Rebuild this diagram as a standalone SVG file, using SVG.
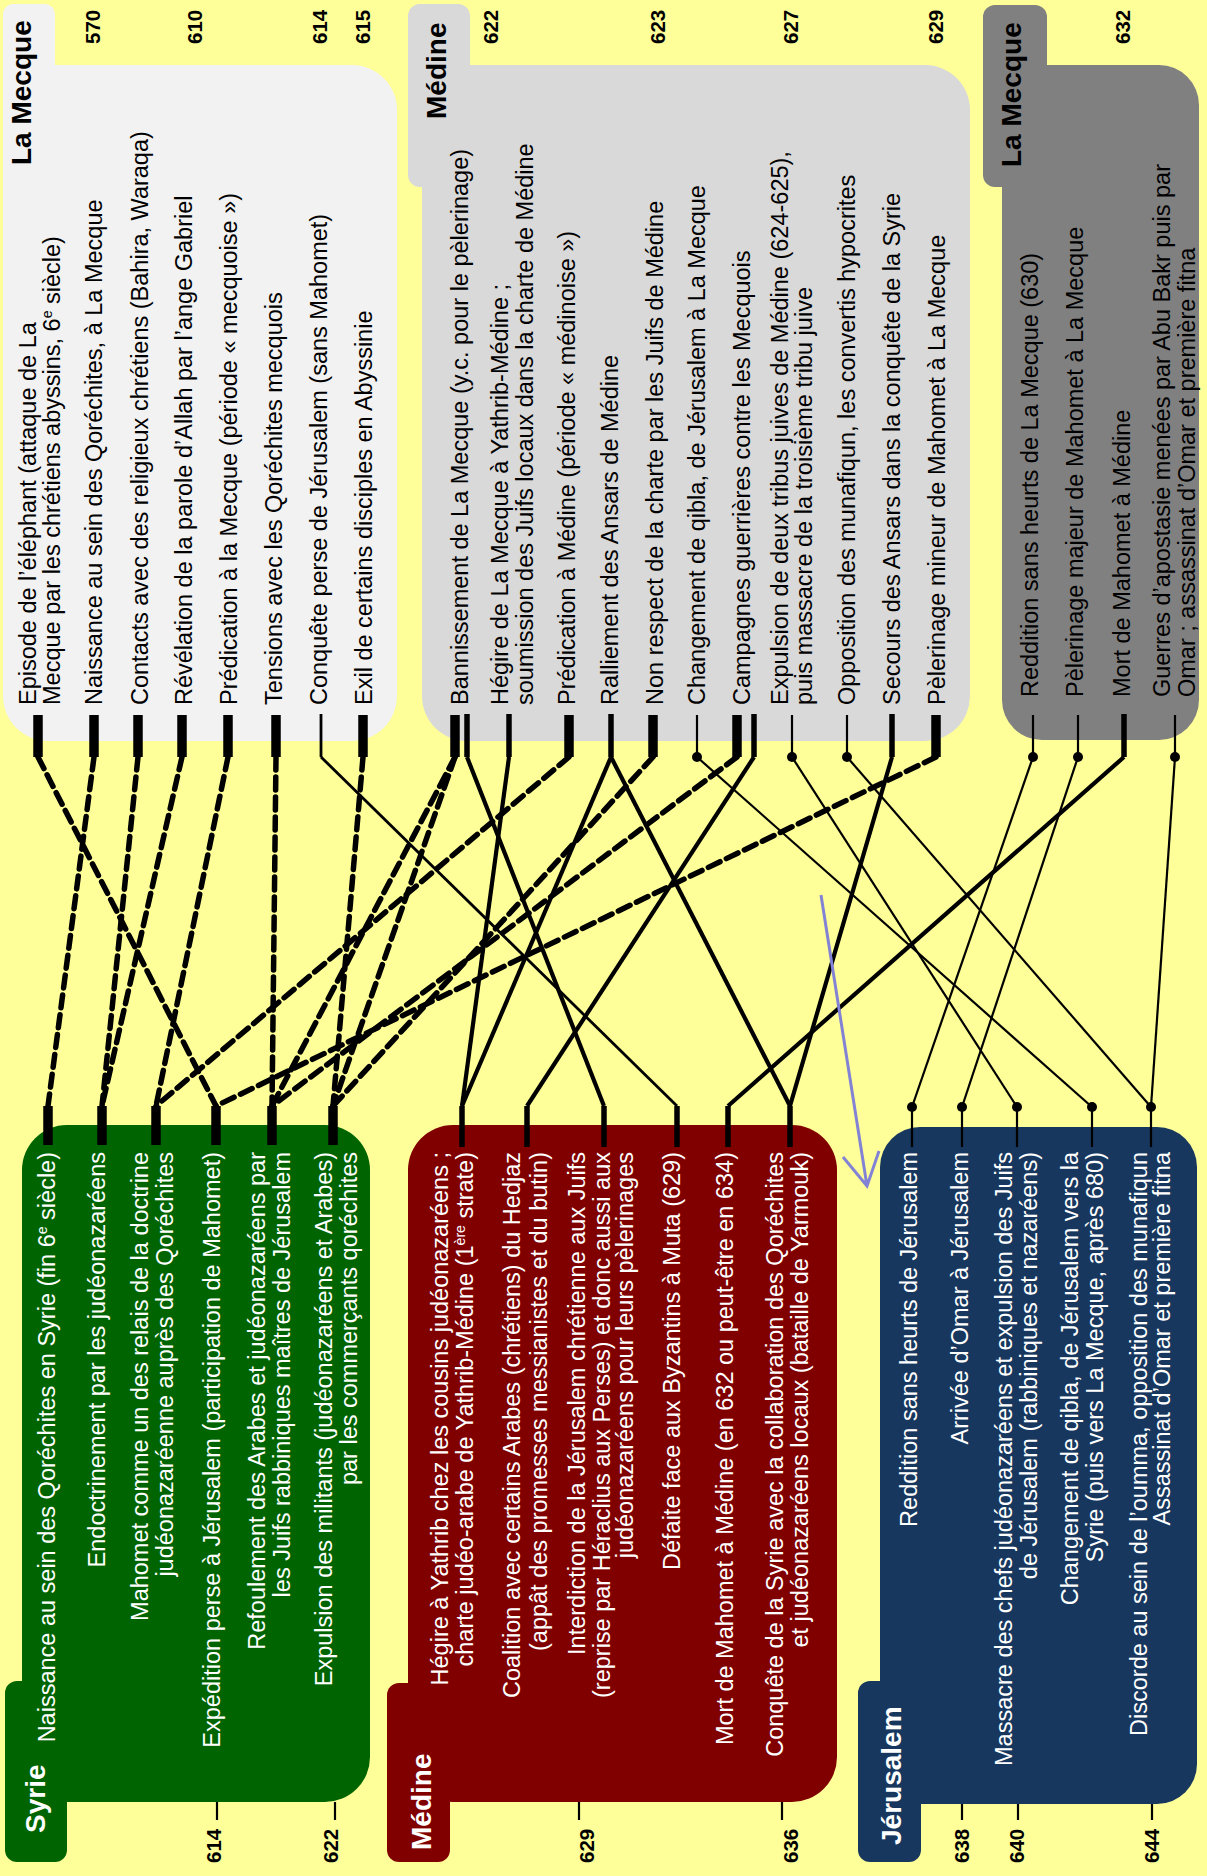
<svg xmlns="http://www.w3.org/2000/svg" width="1207" height="1876" viewBox="0 0 1207 1876">
<style>
.t{font-family:"Liberation Sans",Arial,sans-serif;font-size:23.5px;fill:#000}
.w{fill:#fff;text-anchor:end}
.h{font-weight:bold;font-size:28px}
.y{font-family:"Liberation Sans",Arial,sans-serif;font-weight:bold;font-size:20.5px;fill:#000}
.dash{fill:none;stroke:#000;stroke-width:5.5;stroke-dasharray:13 7;stroke-linecap:round}
.med{fill:none;stroke:#000;stroke-width:4.2}
.th{fill:none;stroke:#000;stroke-width:2.8}
.thin{fill:none;stroke:#000;stroke-width:2.2}
.s9{stroke:#000;stroke-width:9.5}
.s5{stroke:#000;stroke-width:5.5}
.s2{stroke:#000;stroke-width:2.2}
.dot{fill:#000}
.tick{stroke:#000;stroke-width:2.2}
</style>
<rect x="0" y="0" width="1207" height="1876" fill="#FFFF99"/>

<g id="node-mecque1">
<rect x="3" y="4" width="52" height="183" rx="10" fill="#F2F2F2"/>
<rect x="3" y="65" width="394" height="676" rx="45" fill="#F2F2F2"/>
<text class="t h" transform="translate(31,165) rotate(-90)">La Mecque</text>
<text class="t" transform="translate(36,705) rotate(-90)">Episode de l’éléphant (attaque de La</text>
<text class="t" transform="translate(60,705) rotate(-90)">Mecque par les chrétiens abyssins, 6<tspan dy="-8" font-size="14">e</tspan><tspan dy="8"> siècle)</tspan></text>
<text class="t" transform="translate(102,705) rotate(-90)">Naissance au sein des Qoréchites, à La Mecque</text>
<text class="t" transform="translate(148,705) rotate(-90)">Contacts avec des religieux chrétiens (Bahira, Waraqa)</text>
<text class="t" transform="translate(192,705) rotate(-90)">Révélation de la parole d’Allah par l’ange Gabriel</text>
<text class="t" transform="translate(237,705) rotate(-90)">Prédication à la Mecque (période « mecquoise »)</text>
<text class="t" transform="translate(282,705) rotate(-90)">Tensions avec les Qoréchites mecquois</text>
<text class="t" transform="translate(327,705) rotate(-90)">Conquête perse de Jérusalem (sans Mahomet)</text>
<text class="t" transform="translate(372,705) rotate(-90)">Exil de certains disciples en Abyssinie</text>
</g>

<g id="node-medine1">
<rect x="408" y="4" width="62" height="183" rx="12" fill="#D9D9D9"/>
<rect x="422" y="65" width="548" height="676" rx="45" fill="#D9D9D9"/>
<text class="t h" transform="translate(446,119) rotate(-90)">Médine</text>
<text class="t" transform="translate(468,705) rotate(-90)">Bannissement de La Mecque (y.c. pour le pèlerinage)</text>
<text class="t" transform="translate(508,705) rotate(-90)">Hégire de La Mecque à Yathrib-Médine ;</text>
<text class="t" transform="translate(533,705) rotate(-90)">soumission des Juifs locaux dans la charte de Médine</text>
<text class="t" transform="translate(575,705) rotate(-90)">Prédication à Médine (période « médinoise »)</text>
<text class="t" transform="translate(618,705) rotate(-90)">Ralliement des Ansars de Médine</text>
<text class="t" transform="translate(663,705) rotate(-90)">Non respect de la charte par les Juifs de Médine</text>
<text class="t" transform="translate(705,705) rotate(-90)">Changement de qibla, de Jérusalem à La Mecque</text>
<text class="t" transform="translate(750,705) rotate(-90)">Campagnes guerrières contre les Mecquois</text>
<text class="t" transform="translate(788,705) rotate(-90)">Expulsion de deux tribus juives de Médine (624-625),</text>
<text class="t" transform="translate(812,705) rotate(-90)">puis massacre de la troisième tribu juive</text>
<text class="t" transform="translate(855,705) rotate(-90)">Opposition des munafiqun, les convertis hypocrites</text>
<text class="t" transform="translate(900,705) rotate(-90)">Secours des Ansars dans la conquête de la Syrie</text>
<text class="t" transform="translate(945,705) rotate(-90)">Pèlerinage mineur de Mahomet à La Mecque</text>
</g>

<g id="node-mecque2">
<rect x="983" y="5" width="64" height="182" rx="12" fill="#808080"/>
<rect x="1002" y="65" width="197" height="675" rx="40" fill="#808080"/>
<text class="t h" transform="translate(1021,167) rotate(-90)">La Mecque</text>
<text class="t" transform="translate(1038,697) rotate(-90)">Reddition sans heurts de La Mecque (630)</text>
<text class="t" transform="translate(1083,697) rotate(-90)">Pèlerinage majeur de Mahomet à La Mecque</text>
<text class="t" transform="translate(1130,697) rotate(-90)">Mort de Mahomet à Médine</text>
<text class="t" transform="translate(1170,697) rotate(-90)">Guerres d’apostasie menées par Abu Bakr puis par</text>
<text class="t" transform="translate(1195,697) rotate(-90)">Omar ; assassinat d’Omar et première fitna</text>
</g>

<g id="years-top">
<text class="y" transform="translate(100,44) rotate(-90)">570</text>
<text class="y" transform="translate(202,44) rotate(-90)">610</text>
<text class="y" transform="translate(327,44) rotate(-90)">614</text>
<text class="y" transform="translate(370,44) rotate(-90)">615</text>
<text class="y" transform="translate(498,44) rotate(-90)">622</text>
<text class="y" transform="translate(665,44) rotate(-90)">623</text>
<text class="y" transform="translate(798,44) rotate(-90)">627</text>
<text class="y" transform="translate(943,44) rotate(-90)">629</text>
<text class="y" transform="translate(1130,44) rotate(-90)">632</text>
</g>

<g id="node-syrie">
<rect x="22" y="1125" width="348" height="677" rx="45" fill="#006400"/>
<rect x="5" y="1681" width="62" height="181" rx="12" fill="#006400"/>
<text class="t h" style="fill:#fff" transform="translate(45,1833) rotate(-90)">Syrie</text>
<text class="t w" transform="translate(55,1152) rotate(-90)">Naissance au sein des Qoréchites en Syrie (fin 6<tspan dy="-8" font-size="14">e</tspan><tspan dy="8"> siècle)</tspan></text>
<text class="t w" transform="translate(105,1152) rotate(-90)">Endoctrinement par les judéonazaréens</text>
<text class="t w" transform="translate(148,1152) rotate(-90)">Mahomet comme un des relais de la doctrine</text>
<text class="t w" transform="translate(173,1152) rotate(-90)">judéonazaréenne auprès des Qoréchites</text>
<text class="t w" transform="translate(220,1152) rotate(-90)">Expédition perse à Jérusalem (participation de Mahomet)</text>
<text class="t w" transform="translate(265,1152) rotate(-90)">Refoulement des Arabes et judéonazaréens par</text>
<text class="t w" transform="translate(290,1152) rotate(-90)">les Juifs rabbiniques maîtres de Jérusalem</text>
<text class="t w" transform="translate(332,1152) rotate(-90)">Expulsion des militants (judéonazaréens et Arabes)</text>
<text class="t w" transform="translate(357,1152) rotate(-90)">par les commerçants qoréchites</text>
</g>

<g id="node-medine2">
<rect x="408" y="1125" width="429" height="677" rx="45" fill="#800000"/>
<rect x="387" y="1683" width="63" height="179" rx="12" fill="#800000"/>
<text class="t h" style="fill:#fff" transform="translate(431,1850) rotate(-90)">Médine</text>
<text class="t w" transform="translate(448,1152) rotate(-90)">Hégire à Yathrib chez les cousins judéonazaréens ;</text>
<text class="t w" transform="translate(473,1152) rotate(-90)">charte judéo-arabe de Yathrib-Médine (1<tspan dy="-8" font-size="14">ère</tspan><tspan dy="8"> strate)</tspan></text>
<text class="t w" transform="translate(520,1152) rotate(-90)">Coalition avec certains Arabes (chrétiens) du Hedjaz</text>
<text class="t w" transform="translate(547,1152) rotate(-90)">(appât des promesses messianistes et du butin)</text>
<text class="t w" transform="translate(585,1152) rotate(-90)">Interdiction de la Jérusalem chrétienne aux Juifs</text>
<text class="t w" transform="translate(610,1152) rotate(-90)">(reprise par Héraclius aux Perses) et donc aussi aux</text>
<text class="t w" transform="translate(633,1152) rotate(-90)">judéonazaréens pour leurs pèlerinages</text>
<text class="t w" transform="translate(680,1152) rotate(-90)">Défaite face aux Byzantins à Muta (629)</text>
<text class="t w" transform="translate(733,1152) rotate(-90)">Mort de Mahomet à Médine (en 632 ou peut-être en 634)</text>
<text class="t w" transform="translate(783,1152) rotate(-90)">Conquête de la Syrie avec la collaboration des Qoréchites</text>
<text class="t w" transform="translate(808,1152) rotate(-90)">et judéonazaréens locaux (bataille de Yarmouk)</text>
</g>

<g id="node-jerusalem">
<rect x="880" y="1127" width="317" height="677" rx="40" fill="#17375E"/>
<rect x="858" y="1681" width="63" height="181" rx="12" fill="#17375E"/>
<text class="t h" style="fill:#fff" transform="translate(901,1845) rotate(-90)">Jérusalem</text>
<text class="t w" transform="translate(917,1152) rotate(-90)">Reddition sans heurts de Jérusalem</text>
<text class="t w" transform="translate(968,1152) rotate(-90)">Arrivée d’Omar à Jérusalem</text>
<text class="t w" transform="translate(1012,1152) rotate(-90)">Massacre des chefs judéonazaréens et expulsion des Juifs</text>
<text class="t w" transform="translate(1037,1152) rotate(-90)">de Jérusalem (rabbiniques et nazaréens)</text>
<text class="t w" transform="translate(1078,1152) rotate(-90)">Changement de qibla, de Jérusalem vers la</text>
<text class="t w" transform="translate(1103,1152) rotate(-90)">Syrie (puis vers La Mecque, après 680)</text>
<text class="t w" transform="translate(1147,1152) rotate(-90)">Discorde au sein de l’oumma, opposition des munafiqun</text>
<text class="t w" transform="translate(1170,1152) rotate(-90)">Assassinat d’Omar et première fitna</text>
</g>

<g id="years-bottom">
<line class="tick" x1="217" y1="1802" x2="217" y2="1820"/>
<line class="tick" x1="335" y1="1802" x2="335" y2="1820"/>
<line class="tick" x1="579" y1="1802" x2="579" y2="1820"/>
<line class="tick" x1="782" y1="1802" x2="782" y2="1820"/>
<line class="tick" x1="962" y1="1804" x2="962" y2="1820"/>
<line class="tick" x1="1018" y1="1804" x2="1018" y2="1820"/>
<line class="tick" x1="1152" y1="1804" x2="1152" y2="1820"/>
<text class="y" transform="translate(221,1863) rotate(-90)">614</text>
<text class="y" transform="translate(338,1863) rotate(-90)">622</text>
<text class="y" transform="translate(594,1863) rotate(-90)">629</text>
<text class="y" transform="translate(798,1863) rotate(-90)">636</text>
<text class="y" transform="translate(969,1863) rotate(-90)">638</text>
<text class="y" transform="translate(1024,1863) rotate(-90)">640</text>
<text class="y" transform="translate(1159,1863) rotate(-90)">644</text>
</g>

<g id="connectors">
<g class="s9">
<line x1="38" y1="715" x2="38" y2="757"/>
<line x1="94" y1="715" x2="94" y2="757"/>
<line x1="138" y1="715" x2="138" y2="757"/>
<line x1="182" y1="715" x2="182" y2="757"/>
<line x1="228" y1="715" x2="228" y2="757"/>
<line x1="276" y1="715" x2="276" y2="757"/>
<line x1="363" y1="715" x2="363" y2="757"/>
<line x1="455" y1="715" x2="455" y2="757"/>
<line x1="569" y1="715" x2="569" y2="757"/>
<line x1="653" y1="715" x2="653" y2="757"/>
<line x1="737" y1="715" x2="737" y2="757"/>
<line x1="936" y1="715" x2="936" y2="757"/>
</g>
<g class="s5">
<line x1="467" y1="714" x2="467" y2="757"/>
<line x1="509" y1="714" x2="509" y2="757"/>
<line x1="611" y1="714" x2="611" y2="757"/>
<line x1="754" y1="714" x2="754" y2="757"/>
<line x1="892" y1="714" x2="892" y2="757"/>
<line x1="1124" y1="714" x2="1124" y2="757"/>
</g>
<line class="th" x1="321" y1="714" x2="321" y2="757"/>
<g class="s2">
<line x1="697" y1="715" x2="697" y2="757"/>
<line x1="792" y1="715" x2="792" y2="757"/>
<line x1="847" y1="715" x2="847" y2="757"/>
<line x1="1033" y1="715" x2="1033" y2="757"/>
<line x1="1078" y1="715" x2="1078" y2="757"/>
<line x1="1175" y1="715" x2="1175" y2="757"/>
</g>
<g class="dot">
<circle cx="697" cy="757" r="5"/>
<circle cx="792" cy="757" r="5"/>
<circle cx="847" cy="757" r="5"/>
<circle cx="1033" cy="757" r="5"/>
<circle cx="1078" cy="757" r="5"/>
<circle cx="1175" cy="757" r="5"/>
</g>
<g class="s9">
<line x1="48" y1="1106" x2="48" y2="1145"/>
<line x1="102" y1="1106" x2="102" y2="1145"/>
<line x1="156" y1="1106" x2="156" y2="1145"/>
<line x1="216" y1="1106" x2="216" y2="1145"/>
<line x1="272" y1="1106" x2="272" y2="1145"/>
<line x1="333" y1="1106" x2="333" y2="1145"/>
</g>
<g class="s5">
<line x1="462" y1="1106" x2="462" y2="1147"/>
<line x1="527" y1="1106" x2="527" y2="1147"/>
<line x1="604" y1="1106" x2="604" y2="1147"/>
<line x1="677" y1="1106" x2="677" y2="1147"/>
<line x1="728" y1="1106" x2="728" y2="1147"/>
<line x1="790" y1="1106" x2="790" y2="1147"/>
</g>
<g class="s2">
<line x1="912" y1="1107" x2="912" y2="1147"/>
<line x1="962" y1="1107" x2="962" y2="1147"/>
<line x1="1017" y1="1107" x2="1017" y2="1147"/>
<line x1="1092" y1="1107" x2="1092" y2="1147"/>
<line x1="1151" y1="1107" x2="1151" y2="1147"/>
</g>
<g class="dot">
<circle cx="912" cy="1107" r="5"/>
<circle cx="962" cy="1107" r="5"/>
<circle cx="1017" cy="1107" r="5"/>
<circle cx="1092" cy="1107" r="5"/>
<circle cx="1151" cy="1107" r="5"/>
</g>
<line class="dash" x1="38" y1="757" x2="216" y2="1106"/>
<line class="dash" x1="94" y1="757" x2="48" y2="1106"/>
<line class="dash" x1="138" y1="757" x2="102" y2="1106"/>
<line class="dash" x1="182" y1="757" x2="102" y2="1106"/>
<line class="dash" x1="228" y1="757" x2="156" y2="1106"/>
<line class="dash" x1="276" y1="757" x2="272" y2="1106"/>
<line class="dash" x1="363" y1="757" x2="333" y2="1106"/>
<line class="dash" x1="455" y1="757" x2="272" y2="1106"/>
<line class="dash" x1="455" y1="757" x2="333" y2="1106"/>
<line class="dash" x1="569" y1="757" x2="156" y2="1106"/>
<line class="dash" x1="653" y1="757" x2="333" y2="1106"/>
<line class="dash" x1="737" y1="757" x2="272" y2="1106"/>
<line class="dash" x1="936" y1="757" x2="216" y2="1106"/>
<line class="med" x1="467" y1="757" x2="604" y2="1106"/>
<line class="med" x1="509" y1="757" x2="462" y2="1106"/>
<line class="med" x1="611" y1="757" x2="462" y2="1106"/>
<line class="med" x1="611" y1="757" x2="790" y2="1106"/>
<line class="med" x1="754" y1="757" x2="527" y2="1106"/>
<line class="med" x1="892" y1="757" x2="790" y2="1106"/>
<line class="med" x1="1124" y1="757" x2="728" y2="1106"/>
<line class="th" x1="321" y1="757" x2="677" y2="1106"/>
<line class="thin" x1="697" y1="757" x2="1092" y2="1107"/>
<line class="thin" x1="792" y1="757" x2="1017" y2="1107"/>
<line class="thin" x1="847" y1="757" x2="1151" y2="1107"/>
<line class="thin" x1="1033" y1="757" x2="912" y2="1107"/>
<line class="thin" x1="1078" y1="757" x2="962" y2="1107"/>
<line class="thin" x1="1175" y1="757" x2="1151" y2="1107"/>
<path d="M821,895 L867,1186 M843,1157 L867,1186 L879,1151" fill="none" stroke="#8383D6" stroke-width="3"/>
</g>
</svg>
